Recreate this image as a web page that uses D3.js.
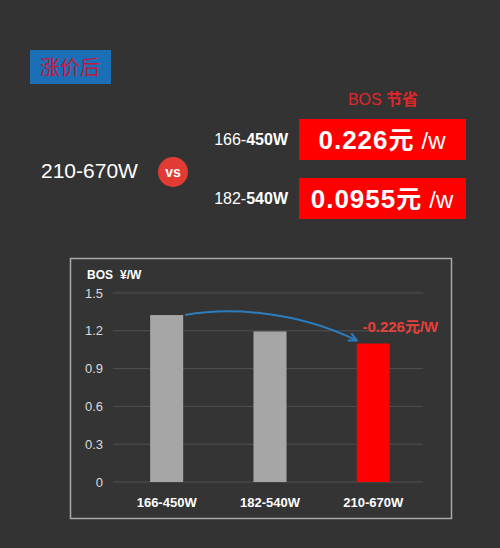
<!DOCTYPE html>
<html lang="zh">
<head>
  <meta charset="UTF-8">
  <title>BOS 节省</title>
  <script src="https://d3js.org/d3.v7.min.js"></script>
  <style>
    body {
      margin: 0;
      background: #333333;
      font-family: "Liberation Sans", Arial, "Noto Sans CJK SC", sans-serif;
    }
    svg { display: block; }
  </style>
</head>
<body>
  <div id="chart"></div>
  <script>
    // data
    const categories = ["166-450W", "182-540W", "210-670W"];
    const bosValues = [1.325, 1.195, 1.099];
    const yTicks = [0, 0.3, 0.6, 0.9, 1.2, 1.5];
    const compareModules = ["166-450W", "182-540W"];
    const savings = ["0.226", "0.0955"];
    const targetModule = "210-670W";
    const dropLabel = "-0.226元/W";

    const W = 500, H = 548;
    const svg = d3.select("#chart").append("svg")
      .attr("width", W).attr("height", H);

    svg.append("rect").attr("width", W).attr("height", H).attr("fill", "#333333");

    // header tag
    svg.append("rect").attr("x", 30).attr("y", 50).attr("width", 81).attr("height", 34)
      .attr("fill", "#1b6fb6");
    svg.append("text").attr("x", 70).attr("y", 75).attr("text-anchor", "middle")
      .attr("font-family", "Noto Sans CJK SC").attr("font-size", 20)
      .attr("fill", "#c8163a").text("涨价后");

    // left module + vs
    svg.append("text").attr("x", 41).attr("y", 178)
      .attr("font-size", 21).attr("fill", "#ffffff").text(targetModule);
    svg.append("circle").attr("cx", 173).attr("cy", 172).attr("r", 15).attr("fill", "#e23b33");
    svg.append("text").attr("x", 173).attr("y", 177).attr("text-anchor", "middle")
      .attr("font-size", 14).attr("font-weight", "bold").attr("fill", "#fff").text("vs");

    // BOS 节省 title
    const title = svg.append("text").attr("x", 383).attr("y", 105).attr("text-anchor", "middle")
      .attr("font-size", 16).attr("fill", "#e0262b");
    title.append("tspan").text("BOS ");
    title.append("tspan").attr("font-family", "Noto Sans CJK SC").attr("font-weight", "bold").text("节省");

    const rowY = d3.scalePoint().domain(compareModules).range([139, 198]);
    compareModules.forEach((m, i) => {
      const cy = rowY(m);
      const parts = m.split("-");
      const lbl = svg.append("text").attr("x", 288).attr("y", cy + 6).attr("text-anchor", "end")
        .attr("font-size", 16).attr("fill", "#fff");
      lbl.append("tspan").text(parts[0] + "-");
      lbl.append("tspan").attr("font-weight", "bold").text(parts[1]);

      svg.append("rect").attr("x", 299).attr("y", cy - 20).attr("width", 167).attr("height", 41)
        .attr("fill", "#ff0000");
      const t = svg.append("text").attr("x", 382).attr("y", cy + 10).attr("text-anchor", "middle")
        .attr("fill", "#fff");
      t.append("tspan").attr("font-size", 26).attr("font-weight", "bold").attr("letter-spacing", 1)
        .text(savings[i]);
      t.append("tspan").attr("font-family", "Noto Sans CJK SC").attr("font-size", 25)
        .attr("font-weight", "bold").text("元");
      t.append("tspan").attr("font-size", 24).attr("dx", 8).text("/w");
    });

    // chart panel
    svg.append("rect").attr("x", 70.5).attr("y", 258.5).attr("width", 381).attr("height", 260)
      .attr("fill", "#343434").attr("stroke", "#a8a8a8").attr("stroke-width", 1.5);

    const x = d3.scaleBand().domain(categories).range([115, 425])
      .paddingInner(0.68).paddingOuter(0.34);
    const y = d3.scaleLinear().domain([0, 1.5]).range([482, 293]);

    // grid
    svg.append("g").selectAll("line").data(yTicks).join("line")
      .attr("x1", 113).attr("x2", 423)
      .attr("y1", d => y(d)).attr("y2", d => y(d))
      .attr("stroke", "#505050").attr("stroke-width", 1);

    // y axis labels
    const yAxis = svg.append("g").attr("transform", "translate(108,0)")
      .call(d3.axisLeft(y).tickValues(yTicks).tickSize(0).tickPadding(5).tickFormat(d => d === 0 ? "0" : d3.format(".1f")(d)));
    yAxis.select(".domain").remove();
    yAxis.selectAll("text").attr("font-size", 13).attr("fill", "#dcdcdc")
      .attr("font-family", "Liberation Sans, Arial, sans-serif");

    const unit = svg.append("text").attr("y", 279).attr("font-size", 12).attr("font-weight", "bold")
      .attr("fill", "#fff");
    unit.append("tspan").attr("x", 87).text("BOS");
    unit.append("tspan").attr("x", 120).text("¥/W");

    // bars
    svg.append("g").selectAll("rect").data(categories).join("rect")
      .attr("x", d => x(d)).attr("width", x.bandwidth())
      .attr("y", (d, i) => y(bosValues[i]))
      .attr("height", (d, i) => y(0) - y(bosValues[i]))
      .attr("fill", (d, i) => i === categories.length - 1 ? "#ff0000" : "#a6a6a6");

    // x axis labels
    const xAxis = svg.append("g").attr("transform", "translate(0,482)")
      .call(d3.axisBottom(x).tickSize(0).tickPadding(16));
    xAxis.select(".domain").remove();
    xAxis.selectAll("text").attr("font-size", 13).attr("font-weight", "bold").attr("fill", "#fff")
      .attr("font-family", "Liberation Sans, Arial, sans-serif");

    // arrow from first bar to last bar
    svg.append("defs").append("marker").attr("id", "ah")
      .attr("viewBox", "0 0 10 10").attr("refX", 9).attr("refY", 5)
      .attr("markerWidth", 5).attr("markerHeight", 5).attr("orient", "auto")
      .append("path").attr("d", "M1,1 L9,5 L1,9").attr("fill", "none")
      .attr("stroke", "#2b7dbd").attr("stroke-width", 2);

    const x0 = x(categories[0]) + x.bandwidth() + 2, y0 = y(bosValues[0]);
    const x1 = x(categories[2]), y1 = y(bosValues[2]) - 3;
    const p = d3.path();
    p.moveTo(x0, y0);
    p.bezierCurveTo(x0 + 45, y0 - 8, x1 - 60, y0 - 4, x1, y1);
    svg.append("path").attr("d", p.toString()).attr("fill", "none")
      .attr("stroke", "#2b7dbd").attr("stroke-width", 2).attr("marker-end", "url(#ah)");

    svg.append("text").attr("x", x(categories[2]) + x.bandwidth() / 2 + 27).attr("y", 332)
      .attr("text-anchor", "middle").attr("font-size", 15).attr("font-weight", "bold")
      .attr("fill", "#e8403a").text(dropLabel);
  </script>
</body>
</html>
